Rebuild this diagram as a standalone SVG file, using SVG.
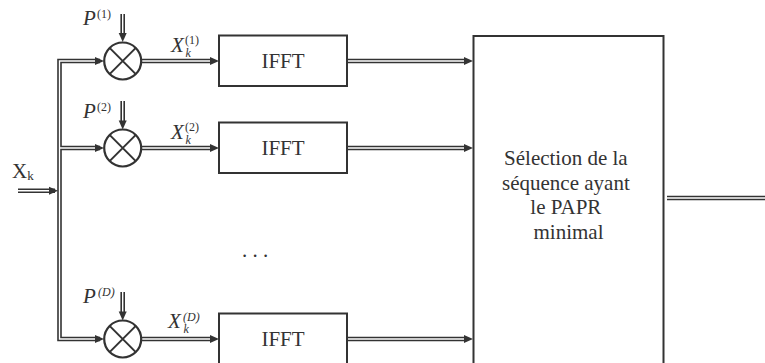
<svg xmlns="http://www.w3.org/2000/svg" width="765" height="363" viewBox="0 0 765 363">
<defs>
<style>
.bg{fill:#ffffff}
.box{fill:#ffffff;stroke:#333;stroke-width:2}
.mul{fill:#ffffff;stroke:#333;stroke-width:2.2}
.cross{stroke:#333;stroke-width:2;fill:none}
.dblo{fill:none;stroke:#333;stroke-width:4.6;stroke-linejoin:miter}
.dbli{fill:none;stroke:#ffffff;stroke-width:1.4;stroke-linejoin:miter}
.ah{fill:#333;stroke:none}
.big{font-size:21px;fill:#333}
.it{font-style:italic}
.sup{font-size:12px;fill:#333}
.sub{font-size:13px}
</style>
</defs>
<rect class="bg" x="0" y="0" width="765" height="363"/>

<g id="connectors">
  <path class="dblo" d="M 100 61 H 59.5 V 339 H 100 M 59.5 148 H 100 M 18 190.7 H 55 M 141 61 H 211 M 141 148 H 211 M 141 339 H 211 M 347 61 H 465 M 347 148 H 465 M 347 339 H 465 M 122.7 14 V 34 M 122.7 101 V 121 M 122.7 292 V 312 M 667 198 H 765"/>
  <path class="dbli" d="M 100 61 H 59.5 V 339 H 100 M 59.5 148 H 100 M 18 190.7 H 55 M 141 61 H 211 M 141 148 H 211 M 141 339 H 211 M 347 61 H 465 M 347 148 H 465 M 347 339 H 465 M 122.7 14 V 34 M 122.7 101 V 121 M 122.7 292 V 312 M 667 198 H 765"/>
  <polygon class="ah" points="95,57 104,61 95,65"/>
  <polygon class="ah" points="95,144 104,148 95,152"/>
  <polygon class="ah" points="95,335 104,339 95,343"/>
  <polygon class="ah" points="49,186.7 58,190.7 49,194.7"/>
  <polygon class="ah" points="210,57 219,61 210,65"/>
  <polygon class="ah" points="210,144 219,148 210,152"/>
  <polygon class="ah" points="210,335 219,339 210,343"/>
  <polygon class="ah" points="464,57 473,61 464,65"/>
  <polygon class="ah" points="464,144 473,148 464,152"/>
  <polygon class="ah" points="464,335 473,339 464,343"/>
  <polygon class="ah" points="118.7,33 122.7,42 126.7,33"/>
  <polygon class="ah" points="118.7,120.5 122.7,129.5 126.7,120.5"/>
  <polygon class="ah" points="118.7,311.5 122.7,320.5 126.7,311.5"/>
</g>

<g font-family="Liberation Serif, serif">
<g id="input">
  <text class="big" font-family="Liberation Serif, serif" x="12" y="178">X<tspan class="sub" dy="2">k</tspan></text>
</g>

<g id="mul1">
  <circle class="mul" cx="122.7" cy="61" r="18.5"/>
  <path class="cross" d="M 109.6 47.9 L 135.8 74.1 M 135.8 47.9 L 109.6 74.1"/>
  <text class="big it" font-family="Liberation Serif, serif" x="83" y="25">P</text>
  <text class="sup" font-family="Liberation Serif, serif" x="97" y="18">(1)</text>
  <text class="big it" font-family="Liberation Serif, serif" x="171" y="51.7">X</text>
  <text class="sup" font-family="Liberation Serif, serif" x="185" y="44">(1)</text>
  <text class="sup it" font-family="Liberation Serif, serif" x="185.5" y="56.5">k</text>
</g>

<g id="mul2">
  <circle class="mul" cx="122.7" cy="148" r="18.5"/>
  <path class="cross" d="M 109.6 134.9 L 135.8 161.1 M 135.8 134.9 L 109.6 161.1"/>
  <text class="big it" font-family="Liberation Serif, serif" x="83" y="118">P</text>
  <text class="sup" font-family="Liberation Serif, serif" x="97" y="111">(2)</text>
  <text class="big it" font-family="Liberation Serif, serif" x="171" y="138.7">X</text>
  <text class="sup" font-family="Liberation Serif, serif" x="185" y="131">(2)</text>
  <text class="sup it" font-family="Liberation Serif, serif" x="185.5" y="143.5">k</text>
</g>

<g id="mulD">
  <circle class="mul" cx="122.7" cy="339" r="18.5"/>
  <path class="cross" d="M 109.6 325.9 L 135.8 352.1 M 135.8 325.9 L 109.6 352.1"/>
  <text class="big it" font-family="Liberation Serif, serif" x="83" y="303">P</text>
  <text class="sup it" font-family="Liberation Serif, serif" x="98" y="295.5">(D)</text>
  <text class="big it" font-family="Liberation Serif, serif" x="168" y="328">X</text>
  <text class="sup it" font-family="Liberation Serif, serif" x="183" y="320.5">(D)</text>
  <text class="sup it" font-family="Liberation Serif, serif" x="183.5" y="333">k</text>
</g>

<g id="ifft1">
  <rect class="box" x="219" y="35.5" width="128" height="50.5"/>
  <text class="big" font-family="Liberation Serif, serif" x="283" y="68" text-anchor="middle">IFFT</text>
</g>
<g id="ifft2">
  <rect class="box" x="219" y="122.5" width="128" height="50.5"/>
  <text class="big" font-family="Liberation Serif, serif" x="283" y="155" text-anchor="middle">IFFT</text>
</g>
<g id="ifftD">
  <rect class="box" x="219" y="313.5" width="128" height="52"/>
  <text class="big" font-family="Liberation Serif, serif" x="283" y="346" text-anchor="middle">IFFT</text>
</g>

<g id="dots">
  <text class="big" font-family="Liberation Serif, serif" x="242" y="257">. . .</text>
</g>

<g id="selection">
  <rect class="box" x="473.5" y="36" width="190" height="330"/>
  <text class="big" font-family="Liberation Serif, serif" text-anchor="middle">
    <tspan x="568.5" y="165">Sélection de la</tspan>
    <tspan x="568.5" y="189.5">séquence ayant</tspan>
    <tspan x="568.5" y="214">le PAPR</tspan>
    <tspan x="568.5" y="238.5">minimal</tspan>
  </text>
</g>
</g>
</svg>
